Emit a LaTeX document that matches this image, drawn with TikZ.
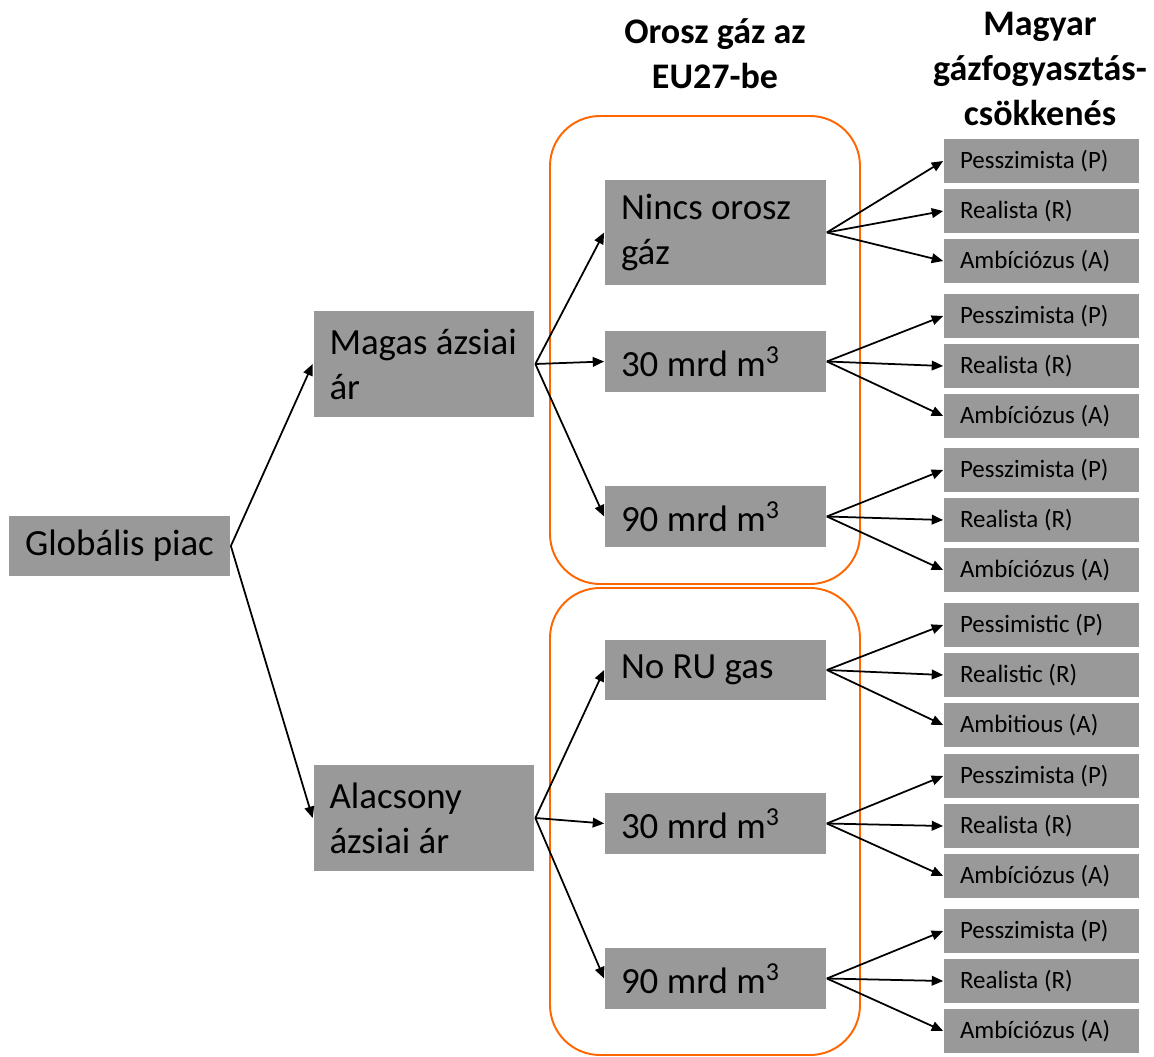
\documentclass[tikz,border=0pt]{standalone}
\usepackage{fontspec}
\setmainfont{Carlito}
\usetikzlibrary{arrows.meta}
\definecolor{boxgray}{RGB}{153,153,153}
\definecolor{grporange}{RGB}{255,102,0}
\tikzset{
  >={Triangle[length=6.5pt,width=5.5pt]},
  every node/.style={execute at begin node={\spaceskip=0pt\xspaceskip=0pt}},
  big/.style={fill=boxgray,inner xsep=0.32cm,text width=3.78cm,align=left,font=\fontsize{21}{25.6}\selectfont},
  mid/.style={big,minimum height=1.22cm},
  tall/.style={big,minimum height=2.12cm},
  leaf/.style={fill=boxgray,minimum height=0.9cm,inner xsep=0.32cm,text width=3.26cm,align=left,font=\fontsize{14.2}{16}\selectfont},
  head/.style={align=center,font=\fontsize{20.5}{25.6}\selectfont\bfseries},
  grp/.style={draw=grporange,line width=1.1pt,rounded corners=1cm}
}
\begin{document}
\begin{tikzpicture}[x=0.02cm,y=-0.02cm,line width=1pt]
\useasboundingbox (0,0) rectangle (1154,1057);
% column heads
\node[head](hdgas)at(715,54){Orosz gáz az\\EU27-be};
\node[head](hdhu)at(1040,69){Magyar\\gázfogyasztás-\\csökkenés};
% orange groups
\draw[grp](550,116)rectangle(860,584);
\draw[grp](550,588)rectangle(860,1055);
% tree
\node[mid](glob)at(119.5,546){Globális piac};
\node[tall](magas)at(424,364){Magas ázsiai\\ár};
\node[tall](alacs)at(424,818){Alacsony\\ázsiai ár};
\node[tall](nincs)at(715.5,232.5){Nincs orosz\\gáz};
\node[mid](ma30)at(715.5,361.5){30 mrd m\textsuperscript{3}};
\node[mid](ma90)at(715.5,516.5){90 mrd m\textsuperscript{3}};
\node[mid](noru)at(715.5,670){No RU gas};
\node[mid](al30)at(715.5,823.5){30 mrd m\textsuperscript{3}};
\node[mid](al90)at(715.5,978.5){90 mrd m\textsuperscript{3}};
\draw[->](glob.east)--(magas.west);
\draw[->](glob.east)--(alacs.west);
\foreach \c in {nincs,ma30,ma90}{\draw[->](magas.east)--(\c.west);}
\foreach \c in {noru,al30,al90}{\draw[->](alacs.east)--(\c.west);}
% leaves
\foreach \s/\yy/\tp/\tr/\ta in {nincs/211/Pesszimista/Realista/Ambíciózus,
  ma30/366/Pesszimista/Realista/Ambíciózus,ma90/520/Pesszimista/Realista/Ambíciózus,
  noru/675/Pessimistic/Realistic/Ambitious,al30/826/Pesszimista/Realista/Ambíciózus,
  al90/981/Pesszimista/Realista/Ambíciózus}{
  \node[leaf](\s-p)at(1041.5,\yy-50){\tp\ (P)};
  \node[leaf](\s-r)at(1041.5,\yy){\tr\ (R)};
  \node[leaf](\s-a)at(1041.5,\yy+50){\ta\ (A)};
  \foreach \k in {p,r,a}{\draw[->](\s.east)--(\s-\k.west);}
}
\end{tikzpicture}
\end{document}
